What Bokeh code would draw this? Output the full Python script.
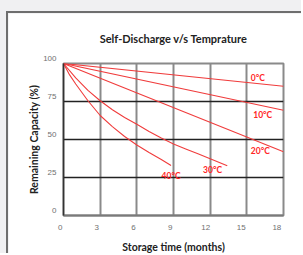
from bokeh.plotting import figure
from bokeh.layouts import column
from bokeh.models import FixedTicker, Range1d
from bokeh.core.properties import value
from bokeh.embed import file_html
from bokeh.resources import INLINE

# ---- data ----
months_0c = [0, 18]
cap_0c = [100, 85]
months_10c = [0, 18]
cap_10c = [100, 69.3]
months_20c = [0, 18]
cap_20c = [100, 42]
months_30c = [0, 1, 2, 3, 4, 5, 6, 7, 8, 9, 10, 11, 12, 13.4]
cap_30c = [100, 90.5, 82.3, 75.5, 69.6, 64.5, 60, 55.3, 51, 47, 43.8, 40.6, 37.4, 32.7]
months_40c = [0, 0.5, 1, 2, 3, 4, 5, 6, 7, 8, 8.8]
cap_40c = [100, 92.5, 86.5, 75.5, 65.8, 58.5, 52, 46.4, 41.5, 36.9, 32.9]

series_labels = ["0°C", "10°C", "20°C", "30°C", "40°C"]
label_x = [15.9, 16.3, 16.1, 12.2, 8.8]
label_y = [90.2, 66.0, 42.7, 30.1, 26.1]

x_ticks = [0, 3, 6, 9, 12, 15, 18]
x_tick_labels = ["0", "3", "6", "9", "12", "15", "18"]
y_ticks = [0, 25, 50, 75, 100]
y_tick_labels = ["0", "25", "50", "75", "100"]

title_text = "Self-Discharge v/s Temprature"
x_title = "Storage time (months)"
y_title = "Remaining Capacity (%)"

RED = "#f03c3c"
LBL_RED = "#ff2626"
FONT = "Lato"
NB = "\u00a0"
x_pad = [3, 3, 3, 3, 4, 5, 6]  # trailing no-break spaces (label nudge to the left)

p = figure(width=295, height=242, x_range=Range1d(0, 18), y_range=Range1d(0, 100),
           output_backend="svg", toolbar_location=None,
           min_border_left=55, min_border_right=20, min_border_top=50, min_border_bottom=39)
p.styles = {"border-left": "2px solid #6e6e6e", "border-top": "2px solid #6e6e6e"}
p.border_fill_color = "white"
p.background_fill_color = "white"
p.outline_line_color = "#8a8a8a"
p.outline_line_width = 2

# title
p.title.text = title_text
p.title.align = "center"
p.title.vertical_align = "top"
p.title.text_font = FONT
p.title.text_font_style = "bold"
p.title.text_font_size = "11px"
p.title.text_color = "#222222"
p.title.standoff = 34

# axes
p.xaxis.ticker = FixedTicker(ticks=x_ticks)
p.yaxis.ticker = FixedTicker(ticks=y_ticks)
p.xaxis.major_label_overrides = {t: s + NB * n for t, s, n in zip(x_ticks, x_tick_labels, x_pad)}
p.yaxis.major_label_overrides = {t: s + "\n" for t, s in zip(y_ticks, y_tick_labels)}
for ax in (p.xaxis, p.yaxis):
    ax.major_tick_line_color = None
    ax.minor_tick_line_color = None
    ax.major_label_text_font = "Liberation Sans"
    ax.major_label_text_font_size = "8px"
    ax.major_label_text_color = "#707070"
    ax.axis_label_text_font = FONT
    ax.axis_label_text_font_style = "bold"
    ax.axis_label_text_font_size = "10.5px"
    ax.axis_label_text_color = "#222222"
p.xaxis.axis_label = x_title
p.yaxis.axis_label = y_title
p.xaxis.axis_line_color = "#7a7a7a"
p.xaxis.axis_line_width = 2
p.yaxis.axis_line_color = "#333333"
p.yaxis.axis_line_width = 1.5
p.xaxis.major_label_standoff = 1
p.xaxis.axis_label_standoff = 6
p.yaxis.major_label_standoff = 1
p.yaxis.axis_label_standoff = 0

# grids
p.xgrid.ticker = FixedTicker(ticks=[3, 6, 9, 12, 15])
p.xgrid.grid_line_color = "#8a8a8a"
p.xgrid.grid_line_width = 2
p.ygrid.ticker = FixedTicker(ticks=[25, 50, 75])
p.ygrid.grid_line_color = "#222222"
p.ygrid.grid_line_width = 1.5

# curves
for xs, ys in [(months_0c, cap_0c), (months_10c, cap_10c), (months_20c, cap_20c),
               (months_30c, cap_30c), (months_40c, cap_40c)]:
    p.line(xs, ys, line_color=RED, line_width=1.1)

p.text(x=label_x, y=label_y, text=series_labels, text_color=LBL_RED,
       text_font=value(FONT), text_font_style="bold", text_font_size="8.5px",
       text_align="center", text_baseline="middle")

layout = column(p, styles={"background-color": "#f0f0f2", "padding-left": "6px",
                           "padding-top": "11px"})

html = file_html(layout, INLINE)
html = html.replace("<body>", '<body style="background:#f0f0f2">', 1)
open("out.html", "w").write(html)
